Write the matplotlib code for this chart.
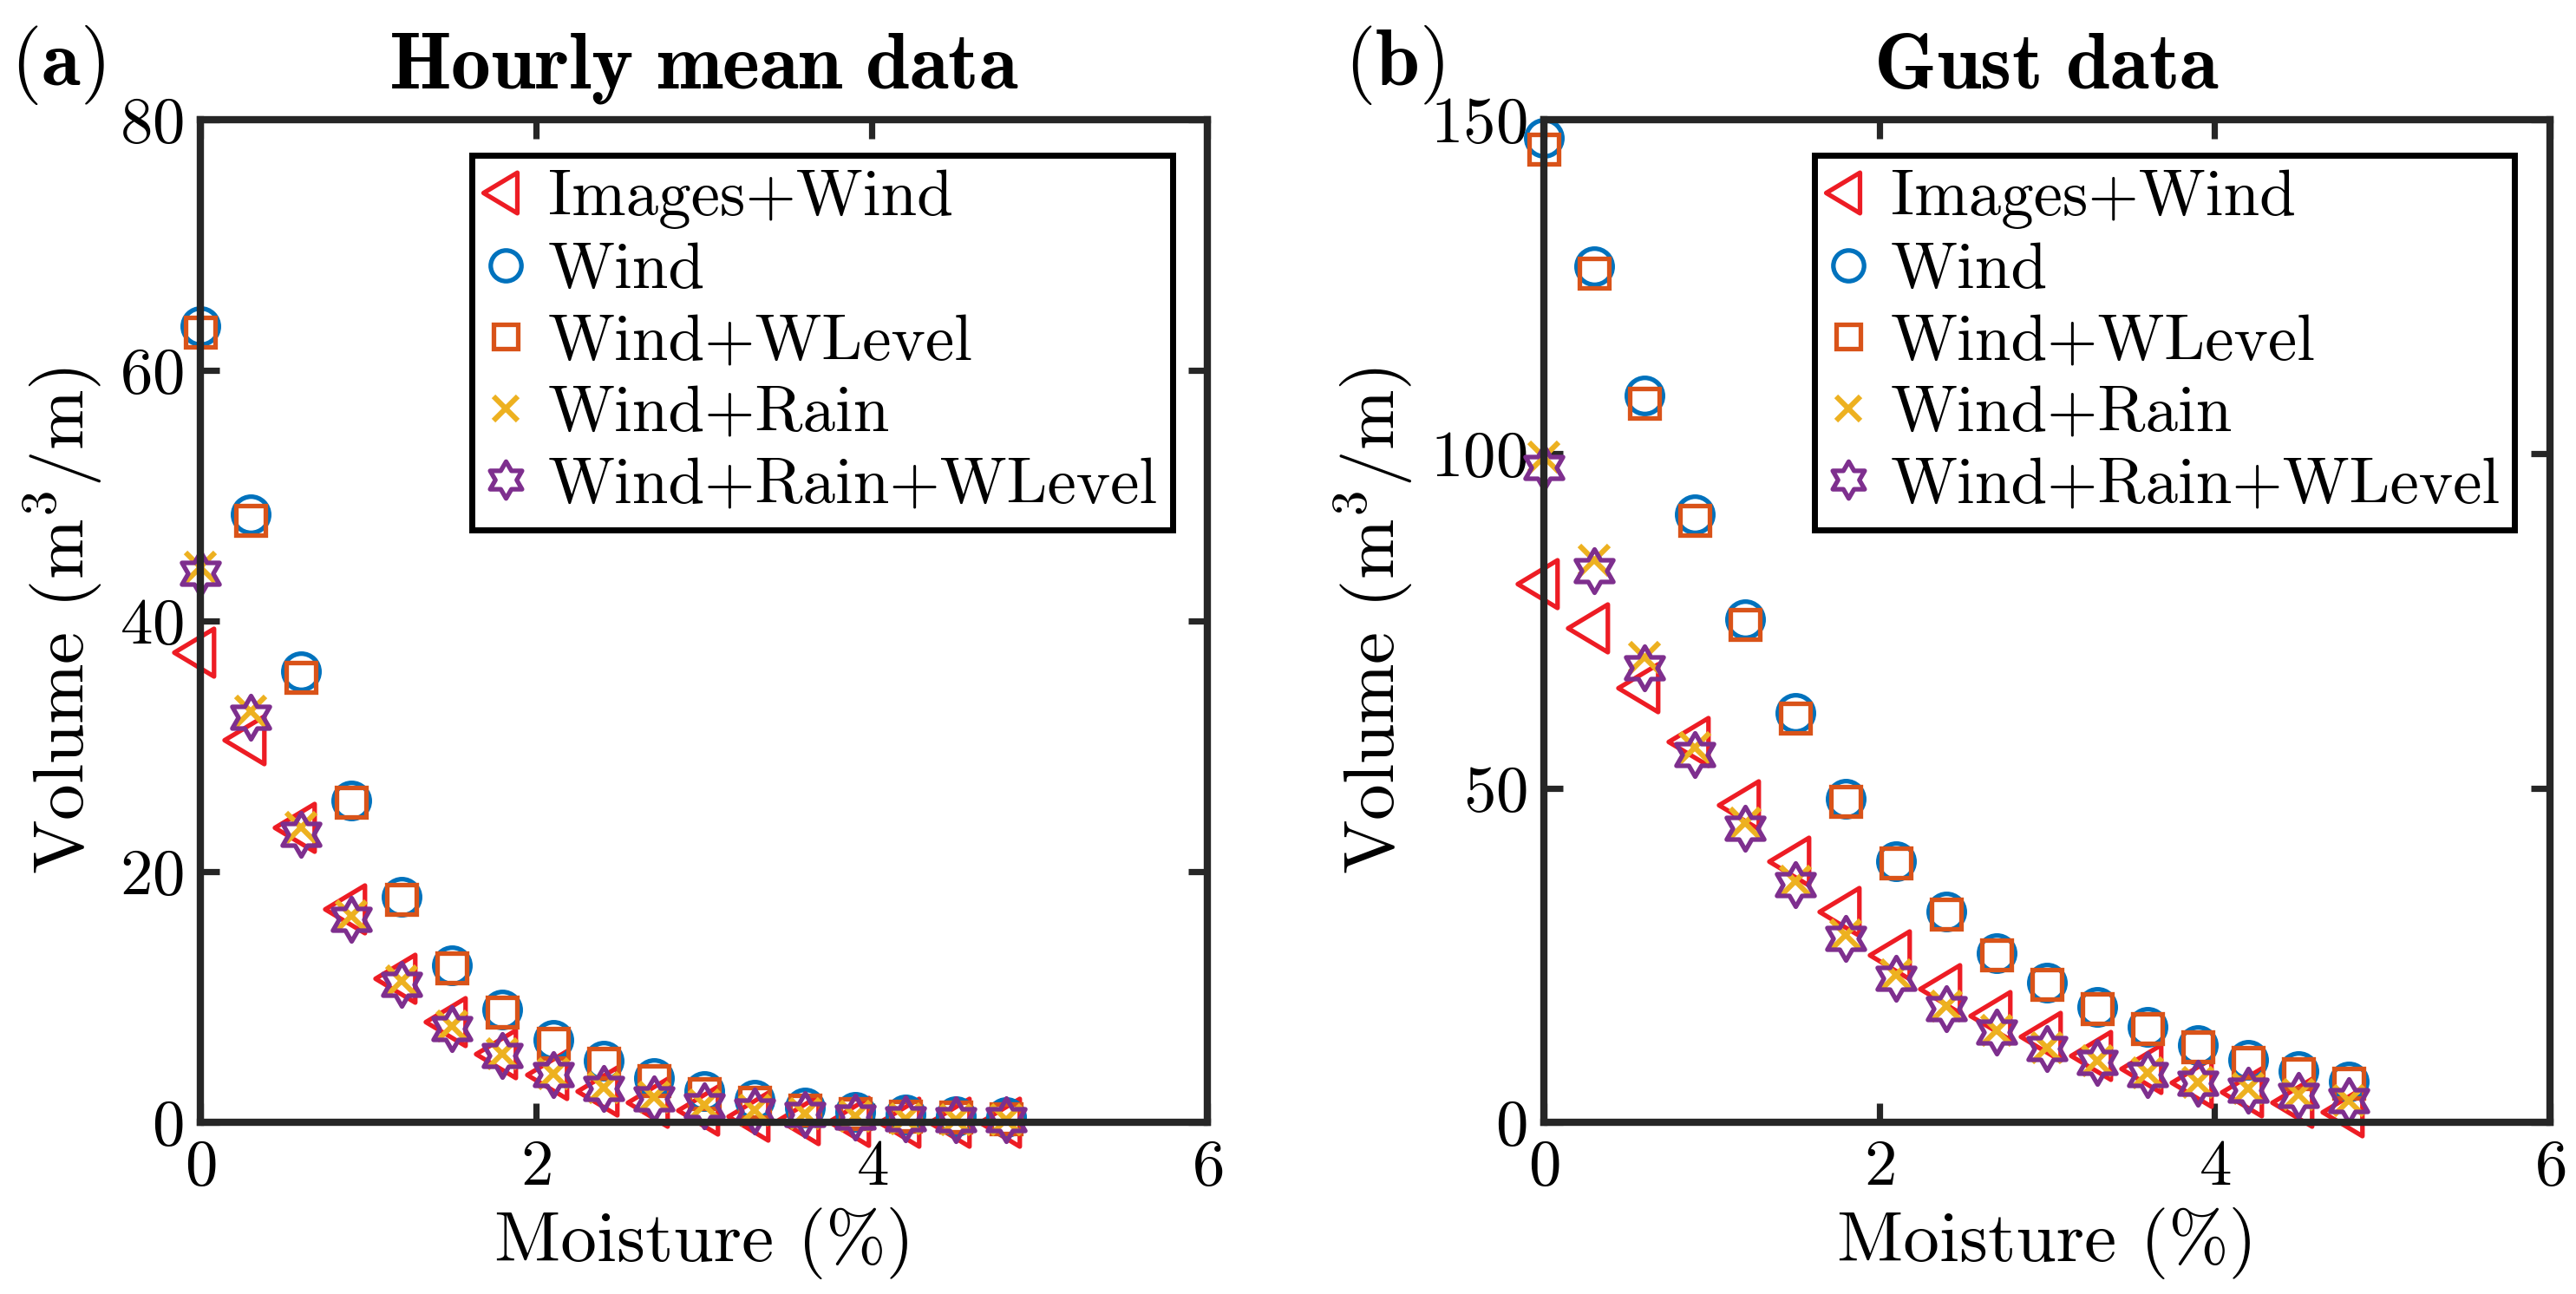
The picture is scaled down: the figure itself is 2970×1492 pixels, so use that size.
import numpy as np
import matplotlib
matplotlib.use("Agg")
import matplotlib.pyplot as plt
from matplotlib.path import Path

plt.rcParams['font.family'] = 'serif'
plt.rcParams['font.serif'] = ['cmr10']
plt.rcParams['mathtext.fontset'] = 'cm'
plt.rcParams['axes.formatter.use_mathtext'] = True

moisture = [0, 0.3, 0.6, 0.9, 1.2, 1.5, 1.8, 2.1, 2.4, 2.7, 3.0, 3.3, 3.6, 3.9, 4.2, 4.5, 4.8]

# (a) hourly mean data
hourly_images_wind = [37.5, 30.5, 23.5, 17.0, 11.5, 8.0, 5.5, 3.8, 2.5, 1.6, 1.0, 0.5, 0.2, 0.1, 0.0, 0.0, 0.0]
hourly_wind = [63.5, 48.5, 36.0, 25.7, 18.0, 12.5, 9.0, 6.6, 4.9, 3.5, 2.5, 1.8, 1.2, 0.8, 0.6, 0.5, 0.4]
hourly_wind_wlevel = [63.0, 48.0, 35.5, 25.5, 17.8, 12.3, 8.8, 6.3, 4.7, 3.3, 2.3, 1.6, 1.0, 0.7, 0.5, 0.4, 0.3]
hourly_wind_rain = [44.3, 32.8, 23.5, 16.5, 11.3, 7.7, 5.5, 3.9, 2.8, 2.0, 1.4, 1.0, 0.7, 0.5, 0.3, 0.2, 0.2]
hourly_wind_rain_wlevel = [43.8, 32.3, 23.0, 16.2, 11.0, 7.5, 5.3, 3.8, 2.7, 1.9, 1.3, 0.9, 0.6, 0.4, 0.3, 0.2, 0.2]

# (b) gust data
gust_images_wind = [80.5, 74.0, 65.0, 57.0, 47.5, 39.0, 31.5, 25.0, 20.0, 16.0, 12.8, 10.0, 8.0, 6.0, 4.5, 3.0, 1.5]
gust_wind = [147.3, 128.1, 108.7, 91.0, 75.2, 61.2, 48.4, 39.1, 31.5, 25.3, 20.9, 17.2, 14.3, 11.6, 9.3, 7.6, 6.1]
gust_wind_wlevel = [145.5, 127.0, 107.5, 90.0, 74.5, 60.5, 48.0, 38.8, 31.2, 25.0, 20.6, 17.0, 14.0, 11.3, 9.0, 7.3, 5.9]
gust_wind_rain = [99.5, 84.0, 69.5, 56.0, 44.8, 36.0, 28.0, 22.0, 17.4, 13.8, 11.2, 9.2, 7.4, 6.0, 5.0, 4.1, 3.3]
gust_wind_rain_wlevel = [98.0, 82.5, 68.0, 55.0, 44.0, 35.5, 27.5, 21.5, 17.0, 13.5, 11.0, 9.0, 7.2, 5.8, 4.8, 4.0, 3.2]

labels = ['Images+Wind', 'Wind', 'Wind+WLevel', 'Wind+Rain', 'Wind+Rain+WLevel']

# matlab-like markers: left triangle centred on its centroid, six point star
left_tri = Path([(-1, 0), (0.5, 0.9), (0.5, -0.9), (-1, 0)],
                [Path.MOVETO, Path.LINETO, Path.LINETO, Path.CLOSEPOLY])
hexagram = Path.unit_regular_star(6, 1 / np.sqrt(3))
styles = [
    dict(marker=left_tri, color='#ED1C24', ms=22, mew=1.9),
    dict(marker='o', color='#0072BD', ms=15, mew=1.9),
    dict(marker='s', color='#D95319', ms=12, mew=1.9),
    dict(marker='x', color='#EDB120', ms=12, mew=2.2),
    dict(marker=hexagram, color='#7E2F8E', ms=18, mew=1.9),
]

fig = plt.figure(figsize=(14.85, 7.46), dpi=200)
ax1 = fig.add_axes([0.0778, 0.1327, 0.391, 0.775])
ax2 = fig.add_axes([0.5993, 0.1327, 0.3906, 0.775])

panels = [
    (ax1, [hourly_images_wind, hourly_wind, hourly_wind_wlevel, hourly_wind_rain, hourly_wind_rain_wlevel],
     80, [0, 20, 40, 60, 80], r'$\mathbf{Hourly\ mean\ data}$', r'$\mathbf{(a)}$', 0.004),
    (ax2, [gust_images_wind, gust_wind, gust_wind_wlevel, gust_wind_rain, gust_wind_rain_wlevel],
     150, [0, 50, 100, 150], r'$\mathbf{Gust\ data}$', r'$\mathbf{(b)}$', 0.522),
]

for ax, series, ymax, yticks, title, tag, tagx in panels:
    for ys, st, lab in zip(series, styles, labels):
        ax.plot(moisture, ys, linestyle='none', marker=st['marker'], markersize=st['ms'],
                markerfacecolor='none', markeredgecolor=st['color'], markeredgewidth=st['mew'],
                label=lab, clip_on=False)
    ax.set_xlim(0, 6)
    ax.set_ylim(0, ymax)
    ax.set_xticks([0, 2, 4, 6])
    ax.set_yticks(yticks)
    ax.tick_params(direction='in', top=True, right=True, length=8, width=2.6,
                   labelsize=27, pad=7, color='#262626')
    for sp in ax.spines.values():
        sp.set_linewidth(3.0)
        sp.set_color('#262626')
    ax.set_xlabel('Moisture (%)', fontsize=30, labelpad=4)
    ax.set_ylabel(r'Volume (m$^3$/m)', fontsize=30, labelpad=6)
    ax.set_title(title, fontsize=33, pad=13)
    fig.text(tagx, 0.934, tag, fontsize=33, ha='left', va='baseline')
    leg = ax.legend(loc='upper right', bbox_to_anchor=(0.965, 0.964), borderaxespad=0,
                    fontsize=27, fancybox=False, framealpha=1, edgecolor='black',
                    handlelength=0.6, handletextpad=0.35, labelspacing=0.2,
                    borderpad=0.22, numpoints=1, markerscale=0.85)
    leg.get_frame().set_linewidth(2.5)

fig.savefig('out.png', dpi=200)
